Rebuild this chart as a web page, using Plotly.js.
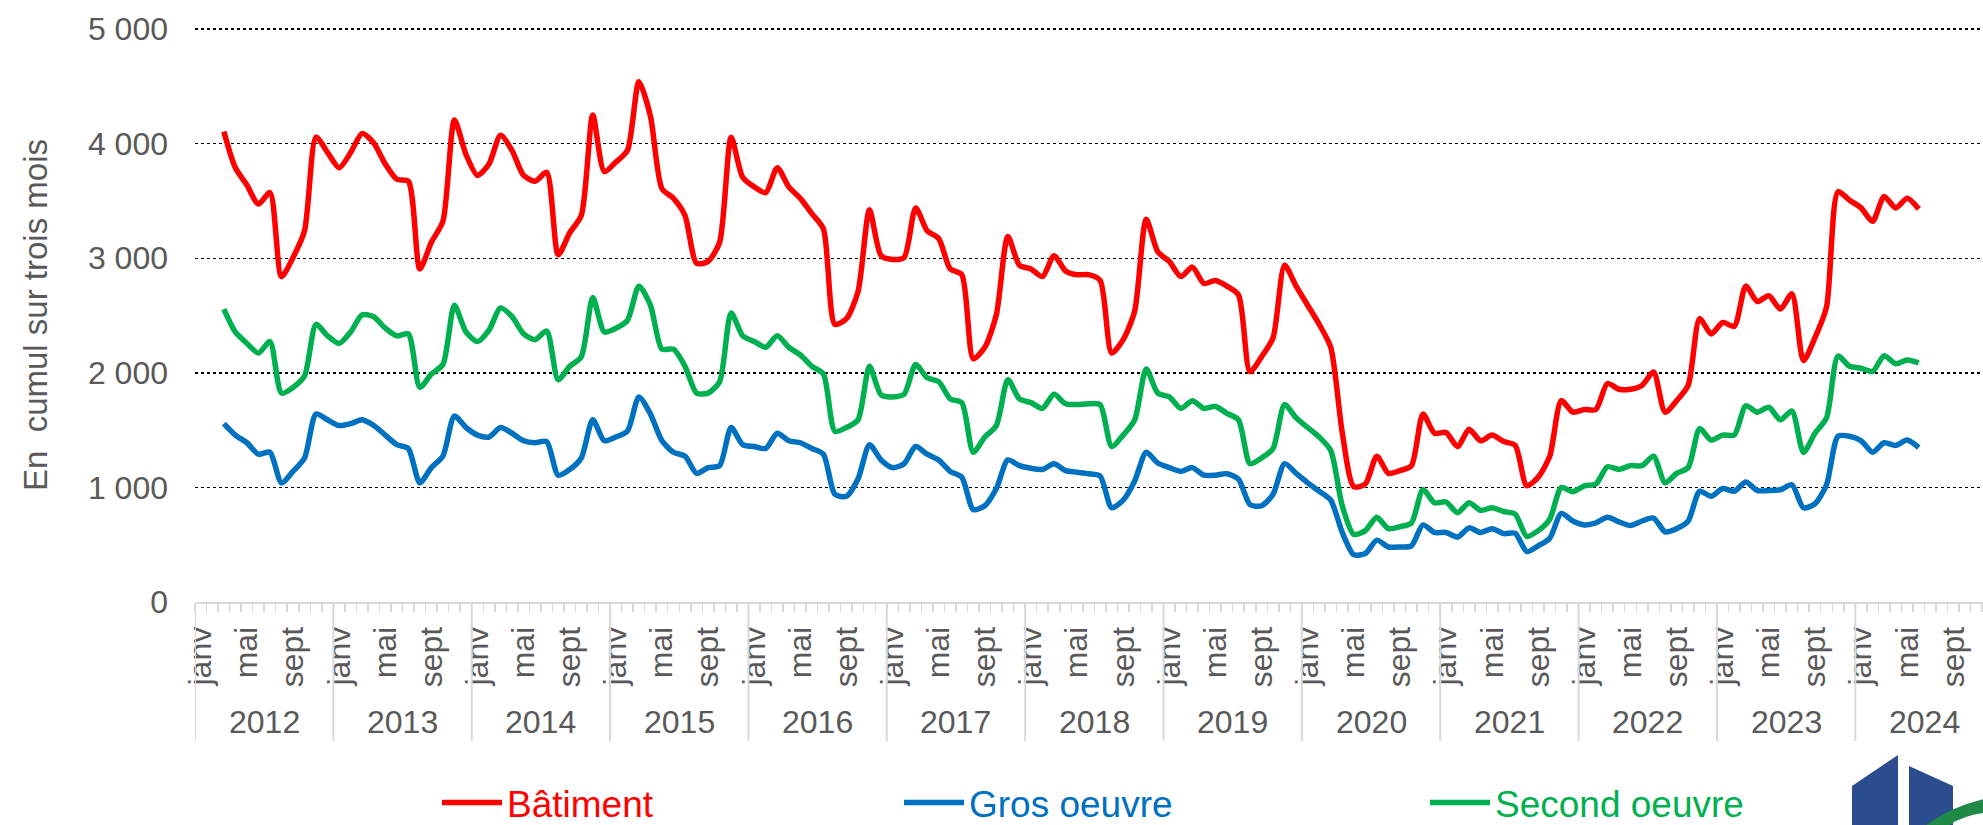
<!DOCTYPE html>
<html>
<head>
<meta charset="utf-8">
<script src="https://cdn.plot.ly/plotly-3.0.1.min.js"></script>
<style>
html,body{margin:0;padding:0;background:#ffffff;}
#chart{width:1983px;height:825px;}
</style>
</head>
<body>
<div id="chart"></div>
<script>
// ---------- Données ----------
const annees = [2012, 2013, 2014, 2015, 2016, 2017, 2018, 2019, 2020, 2021, 2022, 2023, 2024];
const moisEtiquettes = ['janv', 'mai', 'sept'];
const moisEtiquettesRang = [0, 4, 8];          // janvier, mai, septembre
const premierMois = { annee: 2012, mois: 3 };  // première valeur : mars 2012 (cumul sur trois mois)
const nomsSeries = ['Bâtiment', 'Gros oeuvre', 'Second oeuvre'];

const batiment = [
  4107, 3790, 3640, 3473, 3573, 2840, 3007, 3240, 4057, 3923,               // 2012 (mars-déc)
  3790, 3923, 4090, 4007, 3823, 3690, 3673, 2907, 3140, 3323, 4207, 3907,   // 2013
  3723, 3823, 4073, 3940, 3723, 3673, 3750, 3030, 3223, 3373, 4250, 3757,   // 2014
  3840, 3940, 4540, 4240, 3607, 3523, 3373, 2957, 2973, 3140, 4057, 3707,   // 2015
  3623, 3573, 3790, 3623, 3523, 3390, 3257, 2423, 2473, 2707, 3423, 3023,   // 2016
  2990, 3007, 3440, 3240, 3173, 2907, 2857, 2123, 2223, 2507, 3190, 2940,   // 2017
  2907, 2840, 3023, 2890, 2857, 2857, 2807, 2173, 2290, 2540, 3340, 3057,   // 2018
  2973, 2840, 2923, 2780, 2807, 2757, 2680, 2010, 2140, 2307, 2940, 2757,   // 2019
  2590, 2423, 2223, 1480, 1007, 1030, 1273, 1123, 1147, 1190, 1640, 1473,   // 2020
  1480, 1357, 1507, 1407, 1457, 1400, 1367, 1015, 1090, 1273, 1757, 1657,   // 2021
  1680, 1680, 1907, 1857, 1857, 1890, 2007, 1657, 1757, 1890, 2473, 2340,   // 2022
  2440, 2407, 2757, 2623, 2673, 2557, 2690, 2107, 2307, 2573, 3580, 3507,   // 2023
  3440, 3323, 3540, 3440, 3523, 3430                                        // 2024 (janv-juin)
];

const grosOeuvre = [
  1557, 1457, 1390, 1290, 1307, 1040, 1140, 1257, 1640, 1590,
  1540, 1557, 1590, 1540, 1457, 1373, 1340, 1040, 1173, 1273, 1623, 1523,
  1457, 1440, 1523, 1473, 1407, 1390, 1400, 1107, 1157, 1257, 1590, 1407,
  1440, 1490, 1790, 1640, 1407, 1307, 1273, 1123, 1173, 1190, 1523, 1373,
  1357, 1340, 1473, 1407, 1390, 1340, 1290, 940, 923, 1073, 1373, 1240,
  1173, 1207, 1357, 1290, 1240, 1140, 1090, 807, 840, 990, 1240, 1190,
  1167, 1157, 1207, 1147, 1133, 1120, 1100, 823, 890, 1057, 1307, 1213,
  1173, 1140, 1173, 1107, 1107, 1120, 1073, 850, 840, 940, 1207, 1123,
  1040, 967, 890, 607, 413, 423, 540, 480, 480, 490, 673, 607,
  607, 567, 647, 607, 640, 597, 600, 440, 490, 557, 773, 707,
  673, 690, 740, 700, 667, 707, 733, 613, 640, 707, 967, 923,
  990, 967, 1047, 973, 973, 980, 1023, 823, 857, 1023, 1447, 1447,
  1407, 1307, 1390, 1367, 1413, 1347
];

const secondOeuvre = [
  2557, 2357, 2257, 2173, 2273, 1823, 1873, 1973, 2423, 2323,
  2257, 2357, 2507, 2490, 2390, 2323, 2340, 1873, 1990, 2073, 2590, 2357,
  2273, 2373, 2567, 2490, 2340, 2290, 2365, 1940, 2057, 2140, 2657, 2357,
  2390, 2457, 2757, 2590, 2207, 2207, 2057, 1823, 1823, 1923, 2523, 2323,
  2273, 2223, 2323, 2223, 2157, 2057, 1990, 1490, 1523, 1590, 2057, 1807,
  1790, 1813, 2073, 1957, 1923, 1773, 1740, 1307, 1440, 1540, 1940, 1773,
  1740, 1690, 1813, 1730, 1723, 1730, 1723, 1357, 1457, 1590, 2033, 1823,
  1790, 1690, 1757, 1690, 1707, 1647, 1590, 1207, 1257, 1340, 1723, 1607,
  1523, 1440, 1323, 840, 590, 623, 740, 640, 657, 690, 980, 867,
  873, 780, 867, 800, 823, 790, 767, 573, 623, 723, 1000, 963,
  1013, 1030, 1180, 1157, 1190, 1190, 1273, 1040, 1123, 1173, 1513, 1413,
  1457, 1457, 1713, 1657, 1700, 1590, 1667, 1307, 1473, 1607, 2147, 2057,
  2040, 2013, 2150, 2080, 2113, 2087
];

// ---------- Mise en page ----------
const W = 1983, H = 825;
const yHaut = 5010;                          // un peu au-dessus de 5 000 pour garder la grille du haut
const ML = 195, MB = 223, MR = 0;
const pxParUnite = 573 / 5000;
const MT = Math.round((29 - (yHaut - 5000) * pxParUnite) * 100) / 100;
const plotW = W - ML - MR, plotH = H - MT - MB;
const pasMois = 11.53;                       // largeur d'un mois en px
const xMax = -0.5 + plotW / pasMois;
const px2x = px => (px - ML) / plotW;
const py2y = py => (H - MB - py) / plotH;

const gris = '#595959';
const police = '"Liberation Sans", Arial, Helvetica, sans-serif';
const couleurs = ['#FF0000', '#0070C0', '#00B050'];

const debut = (premierMois.annee - annees[0]) * 12 + (premierMois.mois - 1);
const indices = arr => arr.map((_, k) => debut + k);

const donnees = [batiment, grosOeuvre, secondOeuvre];
const legendes = ['legend', 'legend2', 'legend3'];

const traces = donnees.map((vals, s) => ({
  type: 'scatter',
  mode: 'lines',
  name: nomsSeries[s],
  x: indices(vals),
  y: vals,
  line: { color: couleurs[s], width: 5.5, shape: 'spline', smoothing: 0.7 },
  legend: legendes[s],
  hoverinfo: 'skip'
}));

// ticks mois
const tickvals = [], ticktext = [];
annees.forEach((a, k) => {
  moisEtiquettesRang.forEach((r, j) => {
    tickvals.push(k * 12 + r);
    ticktext.push(moisEtiquettes[j]);
  });
});
const minorVals = [];
for (let m = 0; m <= annees.length * 12; m++) minorVals.push(m - 0.5);

// séparateurs d'années et libellés d'années
const shapes = [];
const annotations = [];
annees.forEach((a, k) => {
  shapes.push({
    type: 'line', xref: 'x', yref: 'paper',
    x0: k * 12 - 0.5, x1: k * 12 - 0.5, y0: 0, y1: py2y(741),
    line: { color: '#d9d9d9', width: 2 }
  });
  annotations.push({
    xref: 'x', yref: 'paper', x: k * 12 + 5.5, y: py2y(722),
    text: String(a), showarrow: false, yanchor: 'middle',
    font: { family: police, size: 32, color: gris }
  });
});

// logo (décor)
const chemin = pts => 'M' + pts.map(p => px2x(p[0]).toFixed(5) + ',' + py2y(p[1]).toFixed(5)).join(' L') + ' Z';
shapes.push({ type: 'path', xref: 'paper', yref: 'paper', layer: 'above',
  path: chemin([[1852, 786], [1898, 755], [1898, 826], [1852, 826]]),
  fillcolor: '#2B4C8E', line: { width: 0 } });
shapes.push({ type: 'path', xref: 'paper', yref: 'paper', layer: 'above',
  path: chemin([[1909, 766], [1953, 786], [1953, 826], [1909, 826]]),
  fillcolor: '#2B4C8E', line: { width: 0 } });
shapes.push({ type: 'path', xref: 'paper', yref: 'paper', layer: 'above',
  path: 'M' + px2x(1925) + ',' + py2y(826) + ' Q' + px2x(1950) + ',' + py2y(807) + ' ' + px2x(1984) + ',' + py2y(799) +
        ' L' + px2x(1984) + ',' + py2y(813) + ' Q' + px2x(1962) + ',' + py2y(816) + ' ' + px2x(1948) + ',' + py2y(826) + ' Z',
  fillcolor: '#1F8A46', line: { width: 0 } });

const legendeBase = {
  orientation: 'h', xanchor: 'left', yanchor: 'middle', y: py2y(803),
  itemwidth: 60, bgcolor: 'rgba(0,0,0,0)', borderwidth: 0
};

const layout = {
  width: W, height: H,
  margin: { l: ML, r: MR, t: MT, b: MB, autoexpand: false },
  paper_bgcolor: '#ffffff', plot_bgcolor: '#ffffff',
  separators: ', ',
  font: { family: police, color: gris },
  showlegend: true,
  legend: Object.assign({}, legendeBase, { x: px2x(437), font: { family: police, size: 37, color: couleurs[0] } }),
  legend2: Object.assign({}, legendeBase, { x: px2x(899), font: { family: police, size: 37, color: couleurs[1] } }),
  legend3: Object.assign({}, legendeBase, { x: px2x(1425), font: { family: police, size: 37, color: couleurs[2] } }),
  xaxis: {
    range: [-0.5, xMax], fixedrange: true,
    tickmode: 'array', tickvals: tickvals, ticktext: ticktext,
    tickangle: -90, ticks: '', ticklabelstandoff: 10,
    tickfont: { family: police, size: 32, color: gris },
    showgrid: false, zeroline: false,
    showline: true, linecolor: '#d9d9d9', linewidth: 2,
    minor: { tickmode: 'array', tickvals: minorVals, ticks: 'outside', ticklen: 8, tickcolor: '#d9d9d9', tickwidth: 1.5, showgrid: false }
  },
  yaxis: {
    range: [0, yHaut], fixedrange: true,
    tickmode: 'linear', tick0: 0, dtick: 1000, tickformat: ',d',
    ticks: '', ticklabelstandoff: 26,
    tickfont: { family: police, size: 32, color: gris },
    showgrid: true, gridcolor: '#000000', griddash: 'dot', gridwidth: 1.5,
    zeroline: true, zerolinecolor: '#d9d9d9', zerolinewidth: 2,
    showline: false,
    title: { text: 'En\u00A0 cumul sur trois mois', font: { family: police, size: 33, color: gris }, standoff: 30 }
  },
  shapes: shapes,
  annotations: annotations
};

Plotly.newPlot('chart', traces, layout, { displayModeBar: false, staticPlot: true });
</script>
</body>
</html>
